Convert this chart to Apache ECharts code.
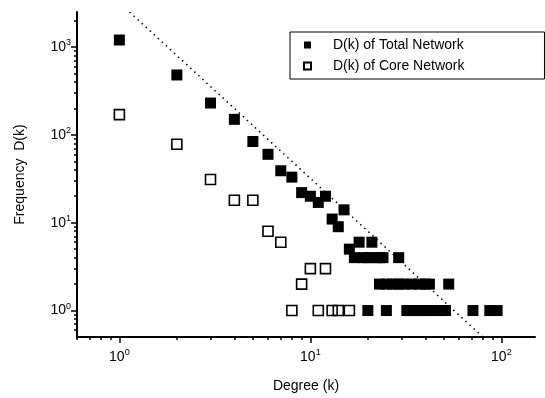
<!DOCTYPE html>
<html>
<head>
<meta charset="utf-8">
<script src="https://cdn.jsdelivr.net/npm/echarts@6/dist/echarts.min.js"></script>
<style>
  html, body { margin: 0; padding: 0; background: #fff; }
  #chart { width: 545px; height: 398px; }
</style>
</head>
<body>
<div id="chart"></div>
<script>
// degree distribution
var totalK = [1, 2, 3, 4, 5, 6, 7, 8, 9, 10, 11, 12, 13, 14, 15, 16, 18, 21,
  17, 19, 20, 22, 23, 24, 29,
  23, 25, 27, 29, 31, 34, 37, 40, 42, 53,
  20, 25, 32, 33, 35, 37, 39, 41, 44, 47, 51, 71, 87, 95]
var totalD = [1200, 480, 230, 150, 84, 60, 39, 33, 22, 20, 17, 20, 11, 9, 14, 5, 6, 6,
  4, 4, 4, 4, 4, 4, 4,
  2, 2, 2, 2, 2, 2, 2, 2, 2, 2,
  1, 1, 1, 1, 1, 1, 1, 1, 1, 1, 1, 1, 1, 1]
var coreK = [1, 2, 3, 4, 5, 6, 7, 9, 10, 12, 8, 11, 13, 14, 16]
var coreD = [170, 78, 31, 18, 18, 8, 6, 2, 3, 3, 1, 1, 1, 1, 1]
// guide line with slope -2 (end points)
var fitK = [1.13, 80]
var fitD = [2500, 0.5]

var xMajor = [1, 10, 100]
var xMinor = [0.6, 0.7, 0.8, 0.9, 2, 3, 4, 5, 6, 7, 8, 9, 20, 30, 40, 50, 60, 70, 80, 90]
var yMajor = [1, 10, 100, 1000]
var yMinor = [0.6, 0.7, 0.8, 0.9, 2, 3, 4, 5, 6, 7, 8, 9, 20, 30, 40, 50, 60, 70, 80, 90,
  200, 300, 400, 500, 600, 700, 800, 900, 2000]

function pairs(a, b) {
  return a.map(function (v, i) { return [v, b[i]] })
}
function powLabel(v) {
  var e = Math.round(Math.log10(v))
  return '{b|10}{sup|' + e + '}'
}
var labelRich = {
  b: { fontSize: 14, lineHeight: 18, color: '#000', fontFamily: 'Liberation Sans' },
  sup: { fontSize: 9, lineHeight: 9, verticalAlign: 'top', color: '#000', fontFamily: 'Liberation Sans' }
}

var myChart = echarts.init(document.getElementById('chart'))
myChart.setOption({
  animation: false,
  backgroundColor: '#fff',
  textStyle: { fontFamily: 'Liberation Sans' },
  grid: { left: 77, top: 12, right: 10, bottom: 59 },
  legend: {
    data: ['D(k) of Total Network', 'D(k) of Core Network'],
    orient: 'vertical',
    left: 290,
    top: 32,
    padding: [6, 80, 6, 13],
    itemGap: 7,
    itemWidth: 7,
    itemHeight: 7,
    borderColor: '#000',
    borderWidth: 1,
    textStyle: { fontSize: 14, color: '#000', padding: [0, 0, 0, 17] }
  },
  xAxis: [
    {
      type: 'log',
      position: 'bottom',
      min: 0.6,
      max: 150,
      name: 'Degree (k)',
      nameLocation: 'middle',
      nameGap: 42,
      nameTextStyle: { fontSize: 14, color: '#000' },
      axisLine: { lineStyle: { color: '#000', width: 2 } },
      axisTick: { length: 6, customValues: xMajor, lineStyle: { color: '#000', width: 1.5 } },
      axisLabel: { customValues: xMajor, margin: 11, formatter: powLabel, rich: labelRich },
      splitLine: { show: false }
    },
    {
      type: 'log',
      position: 'bottom',
      min: 0.6,
      max: 150,
      axisLine: { show: false },
      axisTick: { length: 3, customValues: xMinor, lineStyle: { color: '#000', width: 1.5 } },
      axisLabel: { show: false },
      splitLine: { show: false }
    }
  ],
  yAxis: [
    {
      type: 'log',
      position: 'left',
      min: 0.5,
      max: 2500,
      name: 'Frequency  D(k)',
      nameLocation: 'middle',
      nameGap: 50,
      nameTextStyle: { fontSize: 14, color: '#000' },
      axisLine: { lineStyle: { color: '#000', width: 2 } },
      axisTick: { length: 6, customValues: yMajor, lineStyle: { color: '#000', width: 1.5 } },
      axisLabel: { customValues: yMajor, margin: 6, formatter: powLabel, rich: labelRich },
      splitLine: { show: false }
    },
    {
      type: 'log',
      position: 'left',
      min: 0.5,
      max: 2500,
      axisLine: { show: false },
      axisTick: { length: 3, customValues: yMinor, lineStyle: { color: '#000', width: 1.5 } },
      axisLabel: { show: false },
      splitLine: { show: false }
    }
  ],
  series: [
    {
      name: 'fit',
      type: 'line',
      data: pairs(fitK, fitD),
      symbol: 'none',
      silent: true,
      lineStyle: { color: '#000', width: 1.5, type: [1.5, 4] },
      z: 1
    },
    {
      name: 'D(k) of Total Network',
      type: 'scatter',
      data: pairs(totalK, totalD),
      symbol: 'rect',
      symbolSize: 11,
      itemStyle: { color: '#000', opacity: 1 },
      z: 3
    },
    {
      name: 'D(k) of Core Network',
      type: 'scatter',
      data: pairs(coreK, coreD),
      symbol: 'rect',
      symbolSize: 10,
      itemStyle: { color: 'rgba(255,255,255,0)', borderColor: '#000', borderWidth: 1.6, opacity: 1 },
      z: 3
    }
  ]
})
</script>
</body>
</html>
